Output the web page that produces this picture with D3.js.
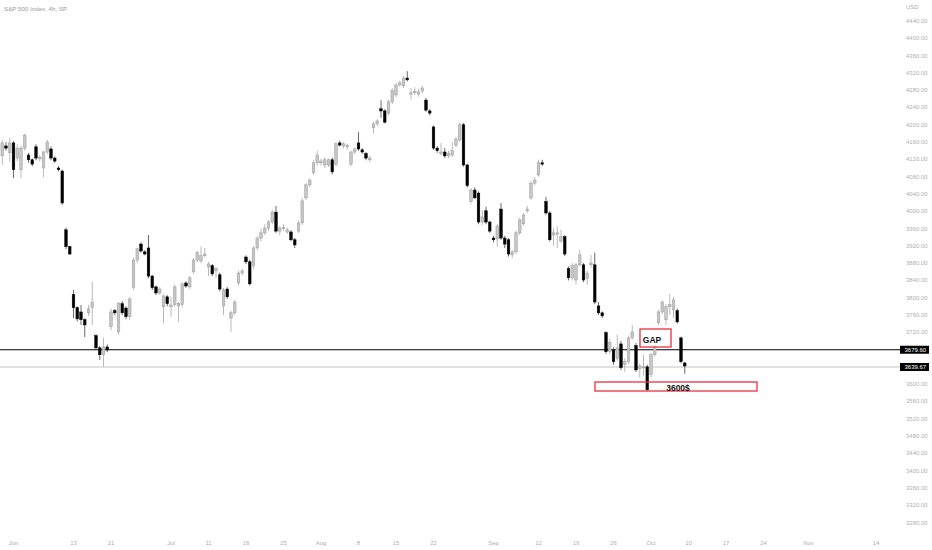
<!DOCTYPE html>
<html>
<head>
<meta charset="utf-8">
<script src="https://cdn.jsdelivr.net/npm/d3@7"></script>
<style>
  html, body { margin: 0; padding: 0; background: #fff; }
  svg { display: block; }
</style>
</head>
<body>
<script>
// 4h bars of the S&P 500, first bar index is -3 (late May), bar 0 = Jun 1 open
const FIRST_BAR = -3;

const opens = [
  4128, 4151, 4135, 4158, 4123, 4096, 4146, 4130, 4119, 4149,
  4121, 4100, 4137, 4144, 4123, 4100, 4093, 3957, 3918, 3807,
  3777, 3767, 3749, 3765, 3777, 3712, 3684, 3668, 3686, 3733,
  3770, 3721, 3786, 3776, 3756, 3823, 3887, 3924, 3906, 3915,
  3850, 3825, 3811, 3779, 3802, 3779, 3784, 3781, 3784, 3834,
  3825, 3860, 3887, 3885, 3897, 3871, 3874, 3862, 3853, 3781,
  3820, 3753, 3765, 3834, 3857, 3894, 3883, 3874, 3915, 3938,
  3950, 3961, 3975, 3998, 3954, 3961, 3952, 3952, 3934, 3954,
  3973, 4031, 4061, 4089, 4112, 4112, 4107, 4107, 4119, 4109,
  4158, 4151, 4149, 4109, 4137, 4158, 4142, 4133, 4119, 4193,
  4202, 4237, 4232, 4227, 4253, 4269, 4292, 4290, 4308, 4271,
  4274, 4271, 4278, 4257, 4232, 4195, 4146, 4133, 4137, 4128,
  4130, 4153, 4165, 4200, 4107, 4022, 4049, 4042, 3975, 4001,
  3975, 3938, 3936, 4005, 3938, 3934, 3899, 3906, 3950, 3971,
  4001, 4031, 4065, 4084, 4112, 4022, 3996, 3945, 3947, 3931,
  3941, 3867, 3846, 3841, 3876, 3876, 3844, 3876, 3876, 3781,
  3765, 3719, 3675, 3679, 3659, 3693, 3645, 3652, 3707, 3689,
  3636, 3638, 3640, 3622, 3668, 3742, 3767, 3749, 3779, 3772,
  3770, 3707, 3649
];
const highs = [
  4165, 4160, 4170, 4162, 4155, 4152, 4180, 4135, 4122, 4155,
  4130, 4140, 4165, 4150, 4127, 4104, 4096, 3962, 3920, 3818,
  3780, 3783, 3752, 3783, 3837, 3716, 3688, 3707, 3692, 3775,
  3774, 3790, 3792, 3780, 3802, 3893, 3916, 3928, 3910, 3945,
  3853, 3828, 3824, 3808, 3806, 3802, 3830, 3790, 3836, 3838,
  3850, 3892, 3908, 3918, 3915, 3883, 3878, 3870, 3858, 3823,
  3825, 3770, 3795, 3862, 3867, 3898, 3888, 3920, 3942, 3960,
  3970, 3980, 4003, 4012, 3966, 3970, 3962, 3956, 3938, 3978,
  4030, 4066, 4076, 4118, 4140, 4122, 4125, 4122, 4124, 4160,
  4163, 4160, 4156, 4140, 4148, 4183, 4146, 4137, 4128, 4207,
  4213, 4257, 4236, 4258, 4285, 4297, 4302, 4313, 4324, 4285,
  4287, 4283, 4290, 4262, 4236, 4198, 4150, 4158, 4146, 4140,
  4160, 4172, 4204, 4204, 4110, 4053, 4055, 4046, 4003, 4010,
  3978, 3943, 3970, 4019, 3943, 3938, 3910, 3955, 3985, 3996,
  4012, 4070, 4079, 4119, 4119, 4033, 4000, 3961, 3965, 3957,
  3945, 3872, 3880, 3880, 3911, 3880, 3862, 3899, 3904, 3790,
  3768, 3722, 3705, 3685, 3714, 3700, 3660, 3712, 3737, 3695,
  3648, 3668, 3645, 3672, 3690, 3772, 3794, 3785, 3809, 3802,
  3775, 3710, 3652
];
const lows = [
  4107, 4140, 4114, 4077, 4115, 4077, 4140, 4112, 4104, 4118,
  4115, 4079, 4132, 4118, 4112, 4092, 4015, 3912, 3899, 3753,
  3745, 3737, 3709, 3758, 3737, 3680, 3656, 3640, 3674, 3725,
  3760, 3715, 3760, 3750, 3748, 3818, 3880, 3904, 3898, 3845,
  3818, 3806, 3806, 3742, 3780, 3756, 3779, 3744, 3778, 3823,
  3820, 3855, 3882, 3880, 3893, 3850, 3850, 3845, 3815, 3760,
  3797, 3721, 3760, 3828, 3852, 3878, 3828, 3865, 3910, 3930,
  3945, 3955, 3970, 3950, 3945, 3955, 3948, 3930, 3915, 3950,
  3968, 4026, 4056, 4084, 4106, 4105, 4100, 4102, 4085, 4104,
  4150, 4145, 4142, 4104, 4132, 4140, 4133, 4118, 4114, 4179,
  4197, 4216, 4203, 4222, 4248, 4264, 4288, 4285, 4300, 4258,
  4268, 4265, 4272, 4230, 4222, 4142, 4135, 4128, 4123, 4123,
  4126, 4148, 4160, 4103, 4055, 4017, 4028, 3970, 3968, 3970,
  3950, 3928, 3918, 3934, 3915, 3895, 3892, 3901, 3945, 3966,
  3996, 4026, 4060, 4080, 4105, 3992, 3930, 3920, 3915, 3926,
  3896, 3840, 3840, 3830, 3872, 3836, 3830, 3870, 3785, 3760,
  3753, 3670, 3670, 3645, 3654, 3632, 3629, 3647, 3703, 3628,
  3615, 3620, 3584, 3615, 3664, 3737, 3762, 3737, 3760, 3753,
  3740, 3648, 3624
];
const closes = [
  4158, 4146, 4158, 4096, 4146, 4146, 4176, 4119, 4109, 4123,
  4125, 4137, 4160, 4123, 4116, 4096, 4019, 3918, 3901, 3777,
  3751, 3749, 3737, 3774, 3790, 3684, 3668, 3686, 3679, 3767,
  3765, 3786, 3765, 3756, 3797, 3887, 3913, 3908, 3901, 3850,
  3823, 3811, 3820, 3804, 3786, 3783, 3825, 3786, 3832, 3827,
  3846, 3887, 3904, 3897, 3901, 3878, 3855, 3867, 3820, 3818,
  3802, 3765, 3790, 3857, 3862, 3883, 3832, 3915, 3938, 3950,
  3961, 3975, 3998, 3954, 3961, 3963, 3957, 3934, 3922, 3973,
  4024, 4061, 4072, 4112, 4130, 4116, 4119, 4119, 4091, 4156,
  4153, 4156, 4153, 4137, 4144, 4144, 4137, 4123, 4123, 4202,
  4209, 4232, 4206, 4253, 4280, 4292, 4297, 4308, 4304, 4274,
  4278, 4276, 4285, 4234, 4227, 4146, 4140, 4137, 4128, 4133,
  4140, 4167, 4200, 4107, 4059, 4049, 4031, 3975, 3987, 3975,
  3954, 3934, 3966, 3938, 3924, 3901, 3906, 3950, 3980, 3991,
  4005, 4065, 4072, 4112, 4109, 3996, 3934, 3950, 3950, 3941,
  3901, 3846, 3874, 3876, 3899, 3841, 3857, 3880, 3790, 3765,
  3758, 3675, 3696, 3652, 3684, 3638, 3652, 3707, 3721, 3633,
  3642, 3640, 3587, 3668, 3684, 3767, 3790, 3779, 3784, 3795,
  3744, 3652, 3642
];

// time axis labels, positioned by 4h bar index
const timeLabels = ["Jun", "13", "21", "Jul", "11", "18", "25", "Aug", "8", "15", "22",
  "Sep", "12", "19", "26", "Oct", "10", "17", "24", "Nov", "14"];
const timeLabelBars = [0, 16, 26, 42, 52, 62, 72, 82, 92, 102, 112,
  128, 140, 150, 160, 170, 180, 190, 200, 212, 230];

const priceTicks = d3.range(3280, 4441, 40);
const priceLevels = [3679.60, 3639.67];
const title = "S&P 500 Index, 4h, SP";

const W = 932, H = 550;
const bars = opens.map((o, i) => ({
  k: FIRST_BAR + i, o, h: highs[i], l: lows[i], c: closes[i]
}));

const x = d3.scaleLinear().domain([0, 200]).range([13.5, 763.5]);
const y = d3.scaleLinear().domain([3280, 4440]).range([522.5, 21]);

const svg = d3.select("body").append("svg")
  .attr("width", W).attr("height", H)
  .style("font-family", "'Liberation Sans', Arial, sans-serif");

svg.append("rect").attr("width", W).attr("height", H).attr("fill", "#fff");

// title
svg.append("text")
  .attr("x", 4).attr("y", 11)
  .attr("font-size", 6.2).attr("fill", "#9a9a9a")
  .text(title);

// horizontal levels
svg.append("line")
  .attr("x1", 0).attr("x2", 900)
  .attr("y1", y(priceLevels[0])).attr("y2", y(priceLevels[0]))
  .attr("stroke", "#000").attr("stroke-width", 1.2);
svg.append("line")
  .attr("x1", 0).attr("x2", 900)
  .attr("y1", y(priceLevels[1])).attr("y2", y(priceLevels[1]))
  .attr("stroke", "#c4c4c4").attr("stroke-width", 1);

// candles
const candles = svg.append("g")
  .selectAll("g")
  .data(bars)
  .join("g");

candles.append("line")
  .attr("x1", (d) => x(d.k)).attr("x2", (d) => x(d.k))
  .attr("y1", (d) => y(d.h)).attr("y2", (d) => y(d.l))
  .attr("stroke", (d) => (d.c >= d.o ? "#a8a8a8" : "#444"))
  .attr("stroke-width", 0.8);

candles.append("rect")
  .attr("x", (d) => x(d.k) - 1.3)
  .attr("width", 2.6)
  .attr("y", (d) => y(Math.max(d.o, d.c)))
  .attr("height", (d) => Math.max(1, Math.abs(y(d.o) - y(d.c))))
  .attr("fill", (d) => (d.c >= d.o ? "#c6c6c6" : "#000"))
  .attr("stroke", (d) => (d.c >= d.o ? "#9c9c9c" : "#000"))
  .attr("stroke-width", 0.5);

// annotations
svg.append("rect")
  .attr("x", 640).attr("y", 329).attr("width", 31).attr("height", 18)
  .attr("fill", "none").attr("stroke", "#e8303c").attr("stroke-width", 1.3);
svg.append("text")
  .attr("x", 652).attr("y", 343)
  .attr("text-anchor", "middle")
  .attr("font-size", 8.5).attr("font-weight", "bold").attr("fill", "#111")
  .text("GAP");

svg.append("rect")
  .attr("x", 595).attr("y", 382).attr("width", 162).attr("height", 9)
  .attr("fill", "none").attr("stroke", "#e8303c").attr("stroke-width", 1.3);
svg.append("text")
  .attr("x", 678).attr("y", 390.5)
  .attr("text-anchor", "middle")
  .attr("font-size", 8.5).attr("font-weight", "bold").attr("fill", "#111")
  .text("3600$");

// right price scale
const axisG = svg.append("g").attr("font-size", 6).attr("fill", "#b0b0b0");
axisG.append("text").attr("x", 906).attr("y", 9).text("USD");
axisG.selectAll("text.tick")
  .data(priceTicks.filter((v) => priceLevels.every((p) => Math.abs(y(v) - y(p)) > 9)))
  .join("text")
  .attr("class", "tick")
  .attr("x", 906)
  .attr("y", (d) => y(d) + 2)
  .text((d) => d3.format(".2f")(d));

const levelLabels = svg.append("g")
  .selectAll("g")
  .data(priceLevels)
  .join("g")
  .attr("transform", (d) => "translate(0," + y(d) + ")");
levelLabels.append("rect")
  .attr("x", 900).attr("y", -4).attr("width", 29).attr("height", 8)
  .attr("fill", "#000");
levelLabels.append("text")
  .attr("x", 904.5).attr("y", 2.2)
  .attr("font-size", 6).attr("fill", "#fff")
  .text((d) => d3.format(".2f")(d));

// time scale
svg.append("g")
  .attr("font-size", 6).attr("fill", "#b0b0b0")
  .selectAll("text")
  .data(timeLabels)
  .join("text")
  .attr("x", (d, i) => x(timeLabelBars[i]))
  .attr("y", 545)
  .attr("text-anchor", "middle")
  .text((d) => d);
</script>
</body>
</html>
